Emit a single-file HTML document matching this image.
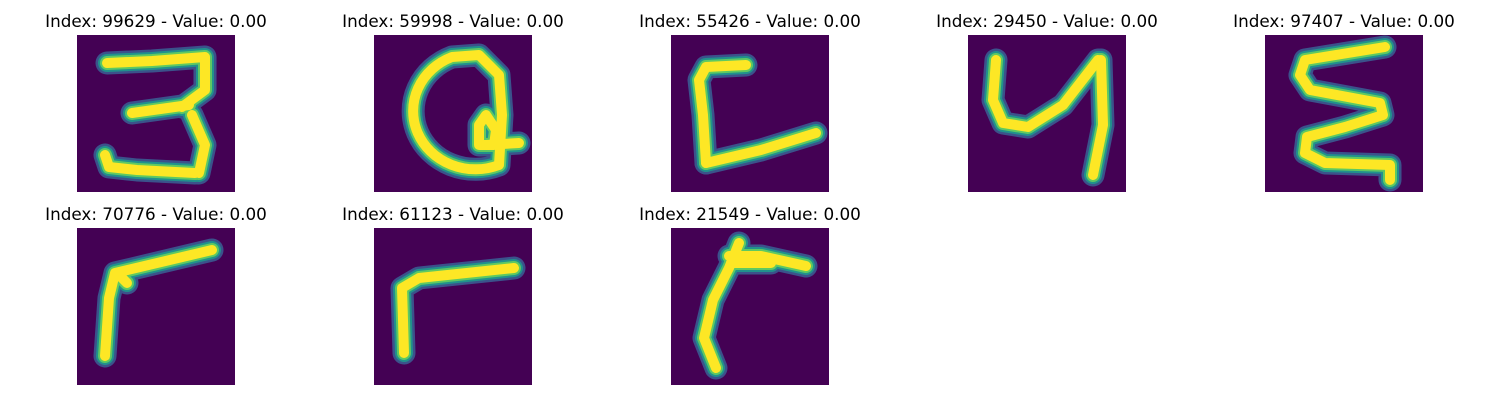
<!DOCTYPE html>
<html><head><meta charset="utf-8"><style>
body{margin:0;background:#fff;width:1500px;height:400px;overflow:hidden}
svg{display:block}
text{font-family:"DejaVu Sans","Liberation Sans",sans-serif;font-size:16.8px;fill:#000}
</style></head><body>
<svg id="fig" width="1500" height="400"></svg>
<script>
const indices=[99629,59998,55426,29450,97407,70776,61123,21549];
const values=[0,0,0,0,0,0,0,0];
const strokes=[
 ["M30,28 L75,26 L128,22 L128,55 L105,72","M55,78 L112,70","M115,80 L128,110 L122,138","M28,120 L32,132 L60,135 L118,138"],
 ["M78,22 A62,58 0 1 0 125,130 M78,22 L105,20 L125,40 L128,80 L125,130","M105,90 L112,80 L122,95 L120,110 L105,110 Z","M112,110 L145,108"],
 ["M75,30 L35,32 L28,45 L32,80 L35,128","M35,128 L90,115 L145,98"],
 ["M28,25 L25,65 L35,88 L60,92 L95,70 L130,25","M133,25 L135,90 L125,140"],
 ["M120,12 L40,25 L35,40 L45,55 L115,68 L118,80 L80,92 L42,102 L40,118 L60,128 L125,130 L125,145"],
 ["M28,128 L32,70 L38,45 L135,22","M40,45 L50,55"],
 ["M30,125 L28,60 L45,50 L140,40"],
 ["M45,140 L33,110 L42,72 L58,40 L68,15","M58,28 L90,28 L135,38","M60,35 L100,35"]
];
const NS="http://www.w3.org/2000/svg";
const fig=document.getElementById('fig');
const xs=[77,374,671,968,1265], ys=[35,228], W=158,H=157;
const defs=document.createElementNS(NS,'defs');fig.appendChild(defs);
indices.forEach((idx,i)=>{
  const x=xs[i%5], y=ys[Math.floor(i/5)];
  const g=document.createElementNS(NS,'g');
  
  
  const cp=document.createElementNS(NS,'clipPath');cp.setAttribute('id','c'+i);
  const cr=document.createElementNS(NS,'rect');cr.setAttribute('width',W);cr.setAttribute('height',H);cp.appendChild(cr);defs.appendChild(cp);
  const t=document.createElementNS(NS,'text');
  
  
  t.setAttribute('x',x+W/2);t.setAttribute('y',y-8);t.setAttribute('text-anchor','middle');
  t.textContent='Index: '+idx+' - Value: '+values[i].toFixed(2);
  g.appendChild(t);
  const ig=document.createElementNS(NS,'g');
  
  
  ig.setAttribute('transform','translate('+x+','+y+')');
  ig.setAttribute('clip-path','url(#c'+i+')');
  const bg=document.createElementNS(NS,'rect');bg.setAttribute('width',W);bg.setAttribute('height',H);bg.setAttribute('fill','#440154');ig.appendChild(bg);
  [['#3b528b',23],['#21918c',18],['#5ec962',14],['#fde725',10]].forEach(([c,w])=>{
    strokes[i].forEach(d=>{
      const p=document.createElementNS(NS,'path');
      p.setAttribute('d',d);p.setAttribute('fill','none');p.setAttribute('stroke',c);
      p.setAttribute('stroke-width',w);p.setAttribute('stroke-linecap','round');p.setAttribute('stroke-linejoin','round');
      ig.appendChild(p);
    });
  });
  g.appendChild(ig);
  fig.appendChild(g);
});
</script>
</body></html>
